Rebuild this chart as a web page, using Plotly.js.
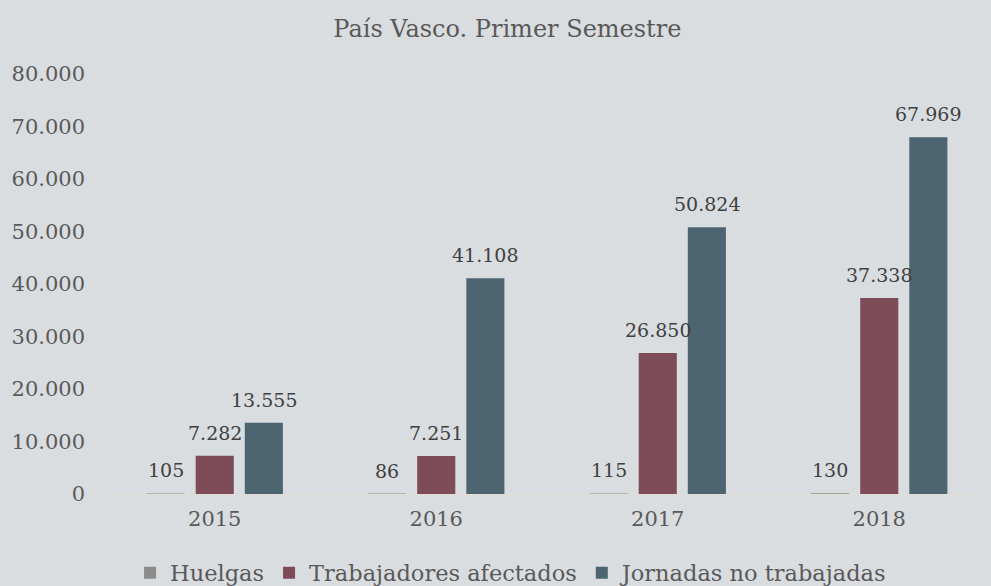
<!DOCTYPE html>
<html><head><meta charset="utf-8">
<script src="https://cdn.plot.ly/plotly-3.0.1.min.js"></script>
<style>html,body{margin:0;padding:0;background:#d9dde0;}#chart{width:991px;height:586px;}</style>
</head><body><div id="chart"></div>
<script>
const years = ['2015','2016','2017','2018'];
const huelgas = [105, 86, 115, 130];
const trabajadores = [7282, 7251, 26850, 37338];
const jornadas = [13555, 41108, 50824, 67969];
const seriesNames = ['Huelgas','Trabajadores afectados','Jornadas no trabajadas'];
const seriesColors = ['#8c8c8c','#7e4b58','#4d6570'];
const yTicks = [0,10000,20000,30000,40000,50000,60000,70000,80000];

const fmt = v => v.toLocaleString('de-DE');
const all = [huelgas, trabajadores, jornadas];
const FONT = 'DejaVu Serif, serif';

const traces = all.map((vals,i)=>({
  type:'bar', name: seriesNames[i], x: years, y: vals,
  marker:{color: seriesColors[i]}, hoverinfo:'none'
}));

const annotations = [];
all.forEach((vals,i)=>{
  vals.forEach((v,j)=>{
    annotations.push({x: j, y: v, xref:'x', yref:'y', text: fmt(v),
      showarrow:false, yanchor:'bottom', xshift:(i-1)*49, yshift:10,
      font:{family:FONT, size:19, color:'#404040'}});
  });
});

const layout = {
  width:991, height:586,
  paper_bgcolor:'#d9dde0', plot_bgcolor:'#d9dde0',
  margin:{l:104, r:1, t:74, b:92, autoexpand:false},
  title:{text:'País Vasco. Primer Semestre', x:0.512, xanchor:'center', y:0.952, yanchor:'middle',
    font:{family:FONT, size:24, color:'#595959'}},
  barmode:'group', bargap:0.335, bargroupgap:0.224,
  xaxis:{type:'category', range:[-0.5,3.5], showgrid:false, zeroline:false, showline:true, linecolor:'#e3ddd6', linewidth:1,
    ticks:'', ticklabelstandoff:6, tickfont:{family:FONT, size:21, color:'#595959'}},
  yaxis:{range:[0,80000], tickvals:yTicks, ticktext:yTicks.map(fmt), showgrid:false, zeroline:false,
    showline:false, ticks:'', ticklabelstandoff:18, tickfont:{family:FONT, size:21, color:'#595959'}},
  showlegend:true,
  legend:{orientation:'h', x:0.46, xanchor:'center', y:-0.137, yanchor:'top',
    font:{family:FONT, size:22.5, color:'#595959'}, itemwidth:30},
  annotations: annotations
};
Plotly.newPlot('chart', traces, layout, {displayModeBar:false, staticPlot:true});
</script></body></html>
